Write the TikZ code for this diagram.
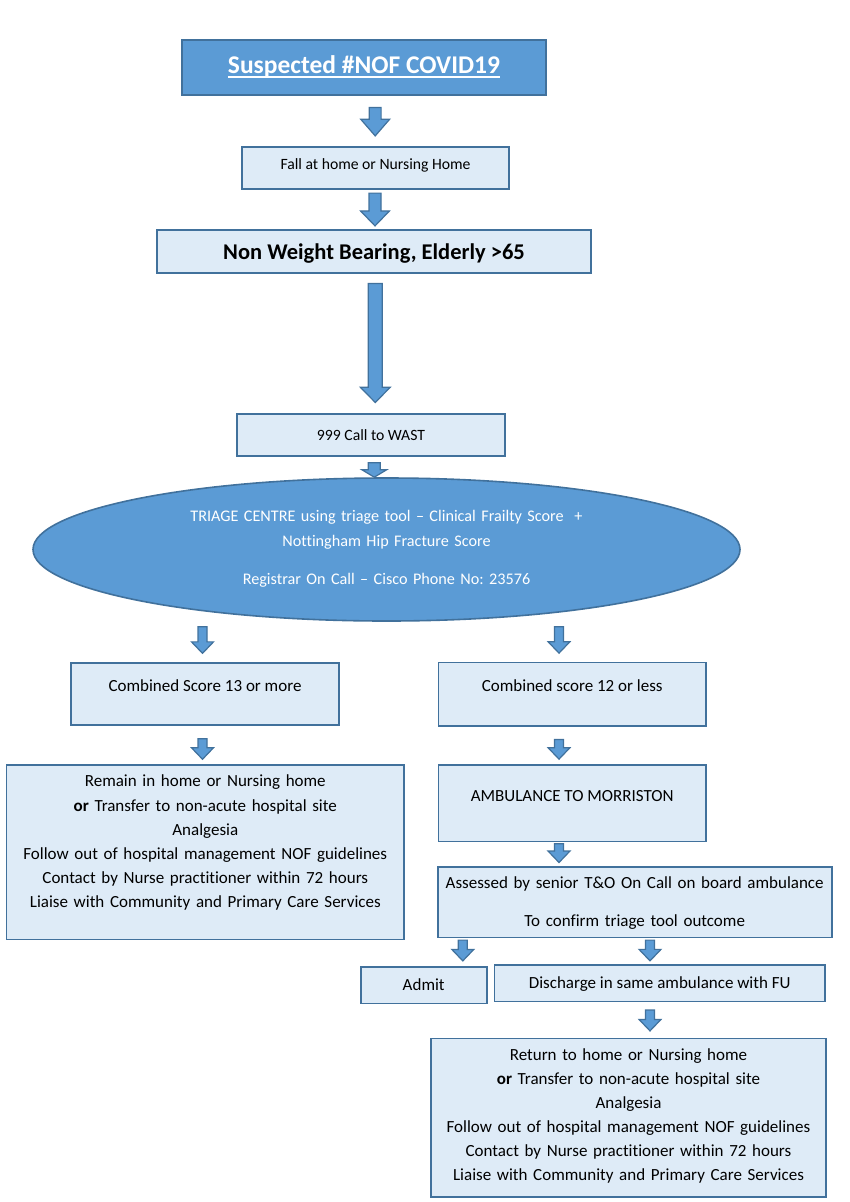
\documentclass[tikz,border=0pt]{standalone}
\usepackage{fontspec}
\setmainfont{Carlito}[Ligatures={TeX,NoCommon}]
\usetikzlibrary{shapes.geometric}
\usetikzlibrary{calc}
\frenchspacing

\definecolor{titleblue}{HTML}{5B9BD5}
\definecolor{lineblue}{HTML}{41719C}
\definecolor{paleblue}{HTML}{DEEBF7}

\def\ashaft{6}\def\ahead{14.5}\def\alen{15}
\newcommand{\arrowsize}[3]{\def\ashaft{#1}\def\ahead{#2}\def\alen{#3}}
% block arrow: from node, to node, x, top gap, bottom gap
\newcommand{\fatarrow}[5]{%
  \path[blockarrow] let \p1=(#1.south), \p2=(#2.north) in
    ({#3pt-\ashaft pt},{\y1-#4pt}) -- ({#3pt+\ashaft pt},{\y1-#4pt})
    -- ({#3pt+\ashaft pt},{\y2+#5pt+\alen pt}) -- ({#3pt+\ahead pt},{\y2+#5pt+\alen pt})
    -- ({#3pt},{\y2+#5pt}) -- ({#3pt-\ahead pt},{\y2+#5pt+\alen pt})
    -- ({#3pt-\ashaft pt},{\y2+#5pt+\alen pt}) -- cycle;}
\newcommand{\titlerule}[1]{\setbox0=\hbox{#1}\rlap{\rule[-4.3pt]{\wd0}{2pt}}\box0}

\begin{document}
\begin{tikzpicture}[x=1pt, y=-1pt]

\tikzstyle{flowbox}=[draw=lineblue, fill=paleblue, line width=1.6pt, inner sep=0pt,
align=center, font=\fontsize{17}{24.1}\selectfont]
\tikzstyle{headbox}=[flowbox, fill=titleblue, text=white,
font=\bfseries\fontsize{25.5}{30}\selectfont]
\tikzstyle{triage}=[ellipse, draw=lineblue, fill=titleblue, text=white, line width=1.6pt,
inner sep=0pt, align=center, font=\fontsize{16.2}{24.3}\selectfont]
\tikzstyle{blockarrow}=[draw=lineblue, fill=titleblue, line width=1.2pt, line join=miter]
\tikzstyle{tbase}=[text height=0pt, text depth=#1]
\tikzstyle{tlift}=[text height=#1, text depth=0pt]

\useasboundingbox (0,0) rectangle (850,1202);

\node[headbox, minimum width=364pt, minimum height=55pt, tlift=12pt] (title) at (364,67.5)
{\titlerule{Suspected \#NOF COVID19}};
\node[flowbox, minimum width=267pt, minimum height=42pt, tlift=2pt,
font=\fontsize{15.7}{19}\selectfont] (fall) at (375.5,168) {Fall at home or Nursing Home};
\node[flowbox, minimum width=434pt, minimum height=43pt, tlift=16pt,
font=\bfseries\fontsize{22.5}{27}\selectfont] (nwb) at (374,251.5) {Non Weight Bearing, Elderly >65};
\node[flowbox, minimum width=268pt, minimum height=42pt, tlift=10pt,
font=\fontsize{15.7}{19}\selectfont] (call) at (371,435) {999 Call to WAST};

\node[triage, minimum width=707pt, minimum height=143pt, text width=400pt, tbase=55.6pt]
(triage) at (386.5,549.5)
{TRIAGE CENTRE using triage tool – Clinical Frailty Score \ +\\
Nottingham Hip Fracture Score\\[13.7pt]
Registrar On Call – Cisco Phone No: 23576};

\node[flowbox, minimum width=268pt, minimum height=62.3pt, tbase=4.6pt] (high) at (205,694)
{Combined Score 13 or more};
\node[flowbox, minimum width=267.7pt, minimum height=63.3pt, tbase=5.2pt] (low) at (572.2,694.3)
{Combined score 12 or less};

\node[flowbox, minimum width=397.3pt, minimum height=174.3pt, text width=390pt, tbase=130.6pt]
(stay) at (205.3,852.2)
{Remain in home or Nursing home\\
\textbf{or} Transfer to non-acute hospital site\\
Analgesia\\
Follow out of hospital management NOF guidelines\\
Contact by Nurse practitioner within 72 hours\\
Liaise with Community and Primary Care Services};
\node[flowbox, minimum width=267.7pt, minimum height=76.7pt, tbase=3.2pt] (amb) at (572.2,803.3)
{AMBULANCE TO MORRISTON};

\node[flowbox, minimum width=394pt, minimum height=70.6pt, text width=390pt, tbase=27.4pt]
(assess) at (634.7,902)
{Assessed by senior T\&O On Call on board ambulance\\[14.3pt]
To confirm triage tool outcome};
\node[flowbox, minimum width=126pt, minimum height=36.6pt, tlift=10pt] (admit) at (423.7,985)
{Admit};
\node[flowbox, minimum width=330.7pt, minimum height=36.7pt, tlift=10pt] (discharge)
at (659.7,983.3) {Discharge in same ambulance with FU};

\node[flowbox, minimum width=395pt, minimum height=158.4pt, text width=390pt, tbase=115pt]
(home) at (628.5,1117.5)
{Return to home or Nursing home\\
\textbf{or} Transfer to non-acute hospital site\\
Analgesia\\
Follow out of hospital management NOF guidelines\\
Contact by Nurse practitioner within 72 hours\\
Liaise with Community and Primary Care Services};

% block arrows
\arrowsize{5.9}{14.5}{16.7}
\fatarrow{title}{fall}{375.2}{11.7}{10.3}
\arrowsize{6}{14.5}{15}
\fatarrow{fall}{nwb}{375}{3.3}{3.3}
\arrowsize{7}{15}{15.3}
\fatarrow{nwb}{call}{375.3}{9.7}{10.7}
\arrowsize{6}{12.5}{7.5}
\fatarrow{call}{triage}{374.3}{6}{0}
\arrowsize{4.5}{11}{11.5}
\fatarrow{triage}{high}{202.5}{5}{8.7}
\fatarrow{triage}{low}{559}{5}{8.7}
\fatarrow{high}{stay}{202.5}{12.8}{5}
\fatarrow{low}{amb}{559}{12.8}{5}
\fatarrow{amb}{assess}{559}{1.3}{3.4}
\fatarrow{assess}{admit}{462.8}{2}{5}
\fatarrow{assess}{discharge}{650}{2}{3.3}
\fatarrow{discharge}{home}{650}{7.6}{6.6}

\end{tikzpicture}
\end{document}
